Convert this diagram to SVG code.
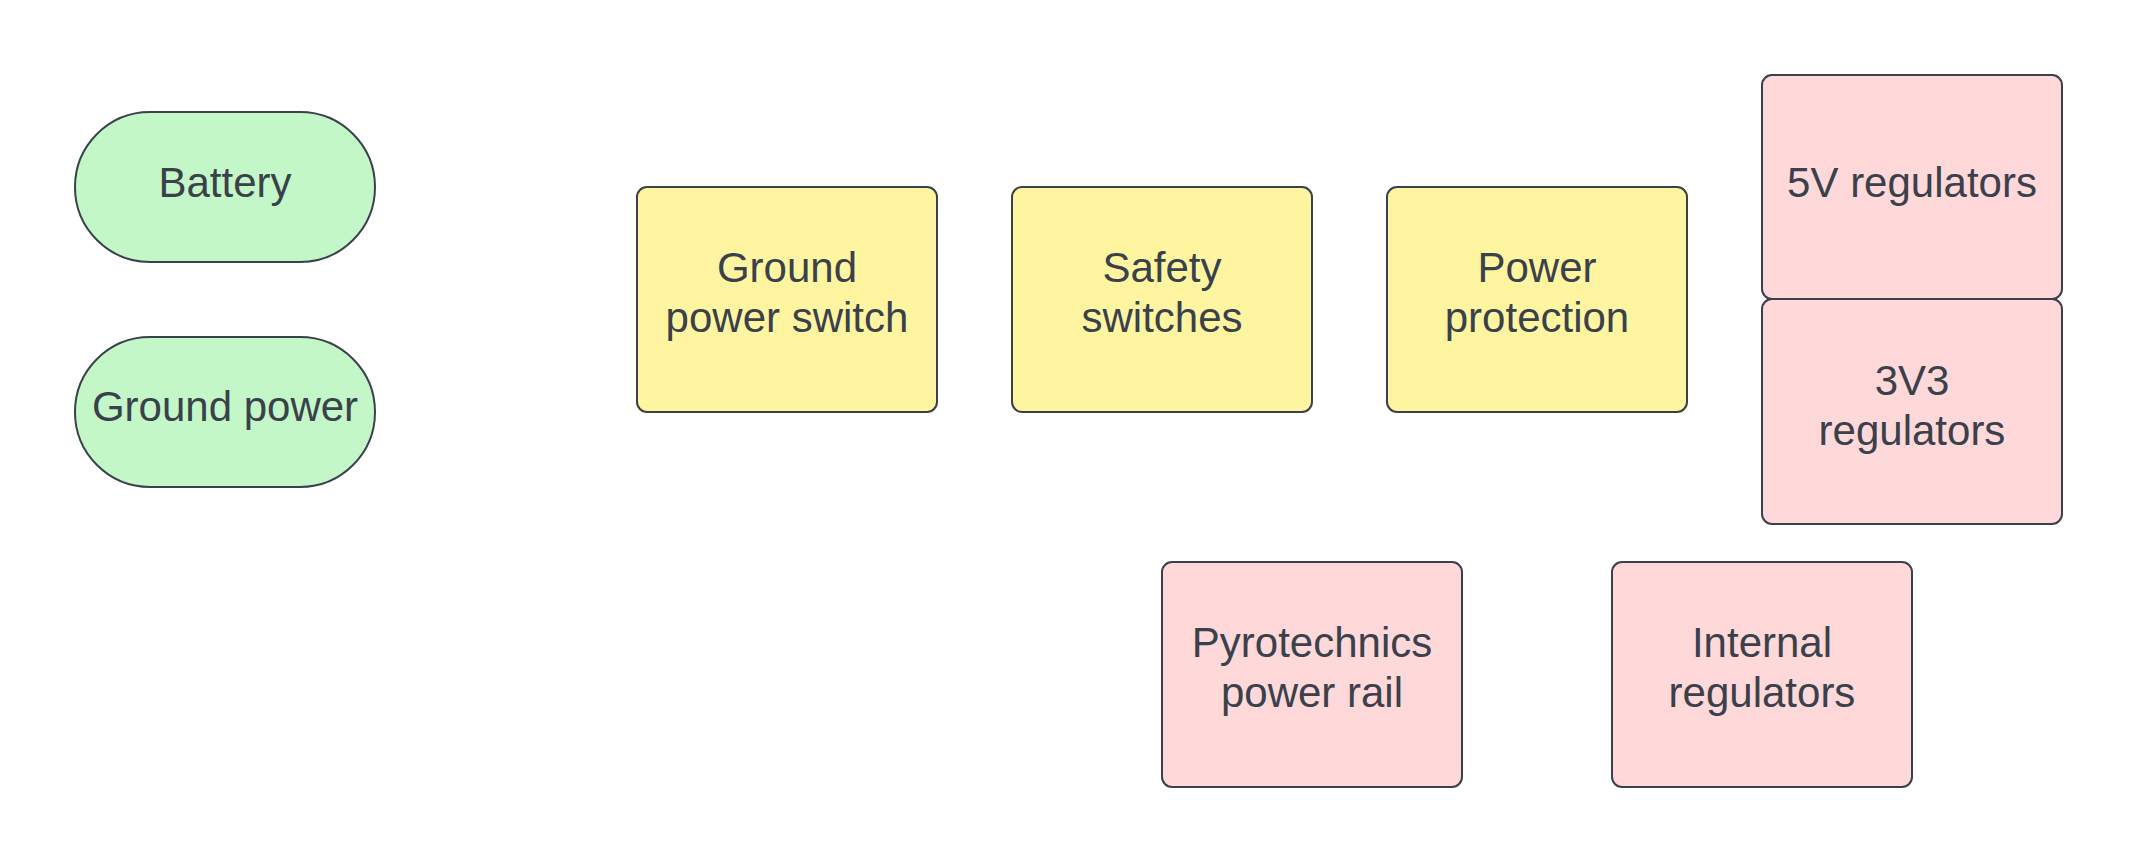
<svg xmlns="http://www.w3.org/2000/svg" width="2138" height="863" viewBox="0 0 2138 863">
<style>
.n{stroke:#3a414a;stroke-width:2}
.g{fill:#c3f7c8}
.y{fill:#fff5a1}
.p{fill:#ffd8da}
text{font-family:"Liberation Sans",Arial,sans-serif;font-size:42px;fill:#3a414a;text-anchor:middle}
</style>
<rect width="2138" height="863" fill="#ffffff"/>
<g id="connectors"></g>
<g id="battery"><rect class="n g" x="75" y="112" width="300" height="150" rx="75"/><text x="225" y="197">Battery</text></g>
<g id="ground-power"><rect class="n g" x="75" y="337" width="300" height="150" rx="75"/><text x="225" y="421">Ground power</text></g>
<g id="ground-power-switch"><rect class="n y" x="637" y="187" width="300" height="225" rx="10"/><text x="787" y="282">Ground</text><text x="787" y="332">power switch</text></g>
<g id="safety-switches"><rect class="n y" x="1012" y="187" width="300" height="225" rx="10"/><text x="1162" y="282">Safety</text><text x="1162" y="332">switches</text></g>
<g id="power-protection"><rect class="n y" x="1387" y="187" width="300" height="225" rx="10"/><text x="1537" y="282">Power</text><text x="1537" y="332">protection</text></g>
<g id="reg-5v"><rect class="n p" x="1762" y="75" width="300" height="224" rx="10"/><text x="1912" y="197">5V regulators</text></g>
<g id="reg-3v3"><rect class="n p" x="1762" y="299" width="300" height="225" rx="10"/><text x="1912" y="395">3V3</text><text x="1912" y="445">regulators</text></g>
<g id="pyro-rail"><rect class="n p" x="1162" y="562" width="300" height="225" rx="10"/><text x="1312" y="657">Pyrotechnics</text><text x="1312" y="707">power rail</text></g>
<g id="internal-reg"><rect class="n p" x="1612" y="562" width="300" height="225" rx="10"/><text x="1762" y="657">Internal</text><text x="1762" y="707">regulators</text></g>
</svg>
